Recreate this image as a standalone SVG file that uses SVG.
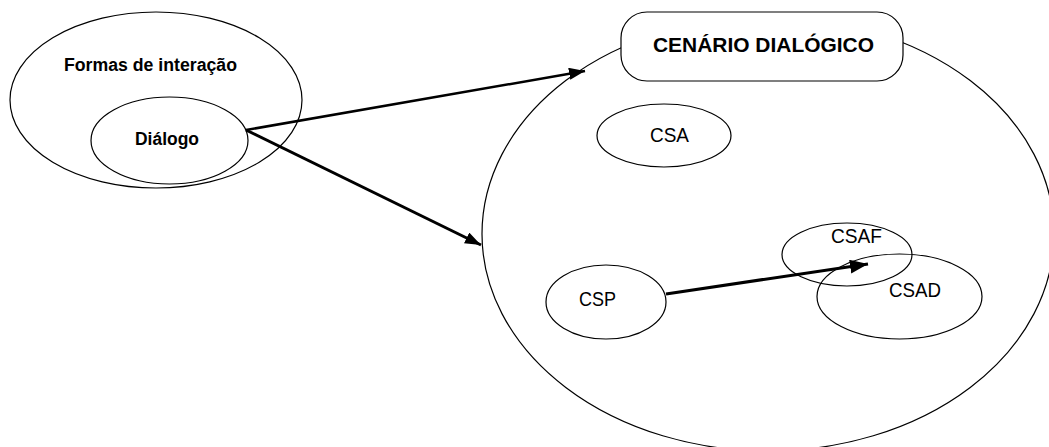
<svg xmlns="http://www.w3.org/2000/svg" width="1049" height="447" viewBox="0 0 1049 447">
  <style>
    .shape { fill: none; stroke: #000; stroke-width: 1.2; }
    .box { fill: #fff; stroke: #000; stroke-width: 1.2; }
    .bold { font-family: "Liberation Sans", Arial, sans-serif; font-weight: bold; fill: #000; }
    .reg { font-family: "Liberation Sans", Arial, sans-serif; font-weight: normal; font-size: 21px; fill: #000; }
    .conn { fill: none; stroke: #000; }
  </style>
  <defs>
    <marker id="arrow" markerUnits="userSpaceOnUse" markerWidth="17" markerHeight="13" refX="16" refY="6" orient="auto">
      <path d="M0,0 L16,6 L0,12 z" fill="#000"/>
    </marker>
    <marker id="arrowBig" markerUnits="userSpaceOnUse" markerWidth="19" markerHeight="15" refX="18" refY="7" orient="auto">
      <path d="M0,0 L18,7 L0,14 z" fill="#000"/>
    </marker>
  </defs>
  <rect width="1049" height="447" fill="#fff"/>

  <g id="formas-de-interacao">
    <ellipse class="shape" cx="156" cy="100" rx="146" ry="88"/>
    <text class="bold" x="64" y="71" font-size="18" textLength="173" lengthAdjust="spacingAndGlyphs">Formas de interação</text>
  </g>

  <g id="dialogo">
    <ellipse class="shape" cx="169.5" cy="140.5" rx="78.5" ry="43.5"/>
    <text class="bold" x="135" y="145" font-size="17.5" textLength="64" lengthAdjust="spacingAndGlyphs">Diálogo</text>
  </g>

  <g id="cenario-dialogico">
    <ellipse class="shape" cx="768" cy="234" rx="286" ry="217"/>
    <rect class="box" x="621" y="12" width="282" height="69" rx="26" ry="26"/>
    <text class="bold" x="653" y="52" font-size="21" textLength="221" lengthAdjust="spacingAndGlyphs">CENÁRIO DIALÓGICO</text>
  </g>

  <g id="csa">
    <ellipse class="shape" cx="664" cy="135.5" rx="67" ry="31.5"/>
    <text class="reg" x="650" y="142" textLength="39" lengthAdjust="spacingAndGlyphs">CSA</text>
  </g>

  <g id="csaf">
    <ellipse class="shape" cx="847" cy="254.5" rx="65" ry="31.5"/>
    <text class="reg" x="831" y="243" textLength="51" lengthAdjust="spacingAndGlyphs">CSAF</text>
  </g>

  <g id="csad">
    <ellipse class="shape" cx="899.5" cy="296.5" rx="82.5" ry="42.5"/>
    <text class="reg" x="889" y="297" textLength="52" lengthAdjust="spacingAndGlyphs">CSAD</text>
  </g>

  <g id="csp">
    <ellipse class="shape" cx="606" cy="302" rx="60" ry="37"/>
    <text class="reg" x="579" y="306" textLength="37" lengthAdjust="spacingAndGlyphs">CSP</text>
  </g>

  <g id="connectors">
    <line class="conn" x1="246" y1="130" x2="585" y2="71" stroke-width="2.5" marker-end="url(#arrow)"/>
    <line class="conn" x1="246" y1="130" x2="481" y2="245" stroke-width="3" marker-end="url(#arrow)"/>
    <line class="conn" x1="666" y1="294" x2="868" y2="264" stroke-width="3.2" marker-end="url(#arrowBig)"/>
  </g>
</svg>
